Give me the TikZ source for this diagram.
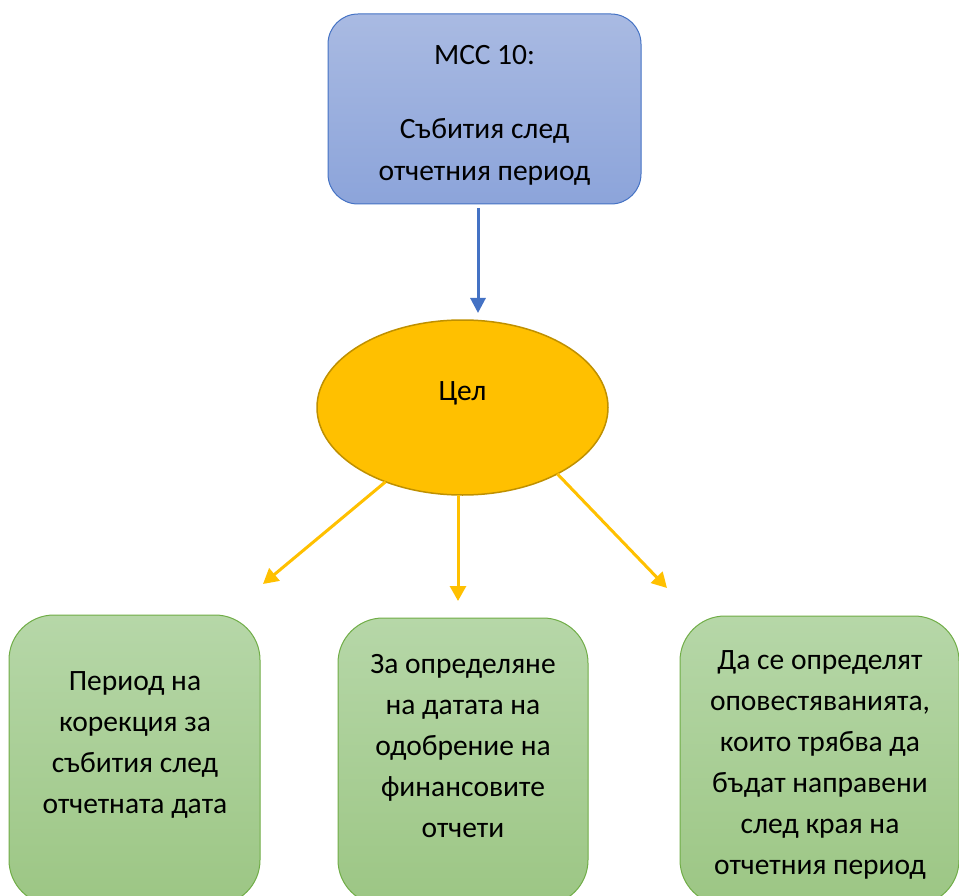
\documentclass[tikz,border=0pt]{standalone}
\usepackage{fontspec}
\setmainfont{Carlito}
\usetikzlibrary{shapes.geometric,arrows.meta}
\definecolor{bluetop}{HTML}{A9BAE2}
\definecolor{bluebot}{HTML}{8CA4DA}
\definecolor{blueborder}{HTML}{4472C4}
\definecolor{greentop}{HTML}{B6D7A8}
\definecolor{greenbot}{HTML}{9CC684}
\definecolor{greenborder}{HTML}{70AD47}
\definecolor{gold}{HTML}{FFC000}
\definecolor{goldborder}{HTML}{BF9000}
\begin{document}
\begin{tikzpicture}[x=1pt,y=-1pt,
  bluebox/.style={draw=blueborder, line width=1pt, rounded corners=30pt,
    top color=bluetop, bottom color=bluebot, minimum width=313pt,
    minimum height=190pt, inner sep=0pt, outer sep=0pt},
  greenbox/.style={draw=greenborder, line width=1pt, rounded corners=45pt,
    top color=greentop, bottom color=greenbot, inner sep=0pt, outer sep=0pt},
  goalshape/.style={ellipse, draw=goldborder, line width=1.5pt, fill=gold,
    minimum width=291pt, minimum height=175pt, inner sep=0pt, outer sep=0pt},
  txt/.style={font=\fontsize{29.5}{41}\selectfont, align=center, text=black, inner sep=0pt},
  bluearrow/.style={draw=blueborder, line width=3pt, -{Triangle[length=15pt,width=15pt]}},
  goldarrow/.style={draw=gold, line width=3pt, -{Triangle[length=15pt,width=16pt]}}
]
\useasboundingbox (0,0) rectangle (959,896);
\clip (0,0) rectangle (959,896);

% top box
\node[bluebox] (mcc) at (484.5,109) {};
\node[txt] (mcct1) at (484.5,55) {МСС 10:};
\node[txt, font=\fontsize{29.5}{42}\selectfont] (mcct2) at (484.5,152) {Събития след\\отчетния период};

% goal ellipse
\node[goalshape] (goal) at (462.5,407.5) {};
\node[txt] (goaltxt) at (462.5,393) {Цел};

% bottom boxes
\node[greenbox, minimum width=251pt, minimum height=290pt] (b1) at (134.5,760) {};
\node[greenbox, minimum width=250pt, minimum height=287pt] (b2) at (463,761.5) {};
\node[greenbox, minimum width=279pt, minimum height=289pt] (b3) at (819.5,760.5) {};

\node[txt] (t1) at (135,745) {Период на\\корекция за\\събития след\\отчетната дата};
\node[txt] (t2) at (463,746.5) {За определяне\\на датата на\\одобрение на\\финансовите\\отчети};
\node[txt] (t3) at (820,765) {Да се определят\\оповестяванията,\\които трябва да\\бъдат направени\\след края на\\отчетния период};

% connectors
\coordinate (bt) at (478,313);
\coordinate (tl) at (263,584);
\coordinate (tm) at (458,601);
\coordinate (tr) at (667,588);
\draw[bluearrow, shorten <=4pt] (mcc.south -| bt) -- (bt);
\draw[goldarrow] (goal.-136.3) -- (tl);
\draw[goldarrow] (goal.south -| tm) -- (tm);
\draw[goldarrow] (goal.-35.6) -- (tr);
\end{tikzpicture}
\end{document}
